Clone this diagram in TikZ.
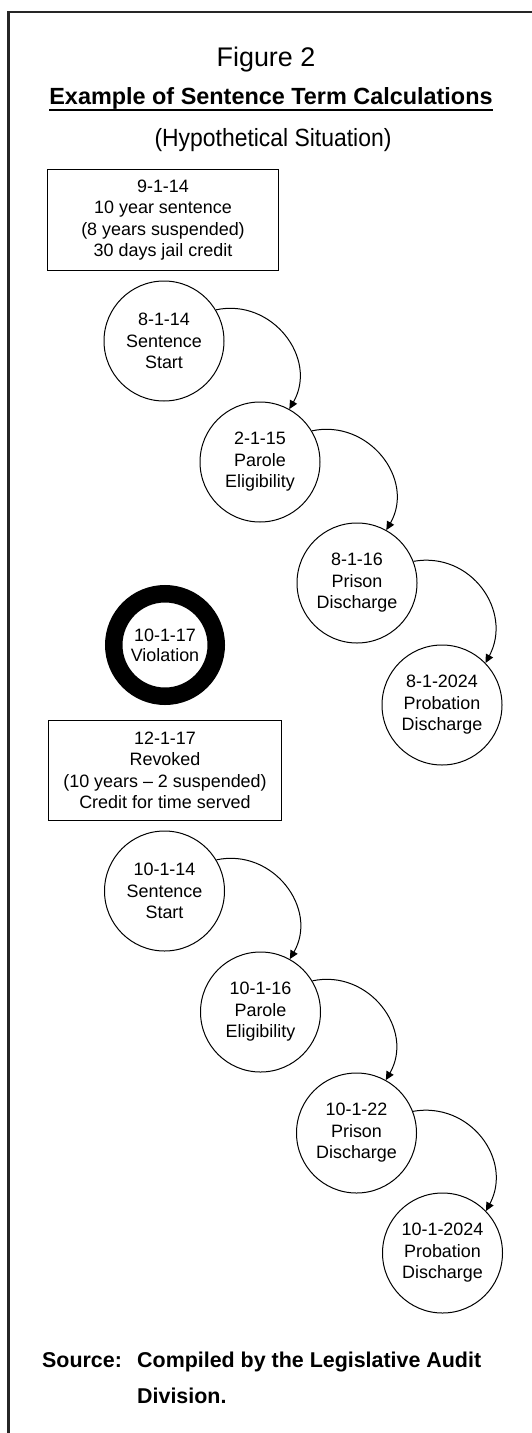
\documentclass[tikz,border=0pt]{standalone}
\usepackage{fontspec}
\setmainfont{Liberation Sans}
\newfontfamily\narrowfont{Liberation Sans}[FakeStretch=0.92]
\usetikzlibrary{arrows.meta}

\begin{document}
\begin{tikzpicture}[
        x=1bp, y=1bp,
        >={Triangle[length=8.5bp,width=8bp]},
        heading/.style={anchor=base, inner sep=0pt, font=\fontsize{24}{28}\selectfont},
        datebox/.style={rectangle, draw, line width=1bp, minimum width=230bp, minimum height=100bp, align=center, font=\fontsize{18}{21.5}\selectfont},
        event/.style={circle, draw, line width=1bp, minimum size=120bp, inner sep=0pt, align=center, font=\fontsize{18}{21.5}\selectfont},
        violation/.style={circle, draw, line width=17.5bp, minimum size=102.5bp, inner sep=0pt, align=center, font=\fontsize{18}{20}\selectfont},
        source/.style={anchor=base west, inner sep=0pt, font=\bfseries\fontsize{21.5}{26}\selectfont},
        timearrow/.style={->, line width=1bp, out=12, in=60, looseness=1.2},
      ]
      \useasboundingbox (0,0) rectangle (532,-1433);

      %Frame
      \draw[line width=2.4bp, black!85] (532,-12) -- (8.5,-12) -- (8.5,-1433);

      %Title
      \node[heading, font=\fontsize{27}{30}\selectfont] (fig) at (266,-67) {Figure 2};
      \node[heading, font=\bfseries\fontsize{23.5}{28}\selectfont] (ex) at (271,-105) {Example of Sentence Term Calculations};
      \node[heading, font=\narrowfont\fontsize{25}{28}\selectfont] (hyp) at (273,-147) {(Hypothetical Situation)};
      \draw[line width=1.8bp] ([yshift=-5bp]ex.base west) -- ([yshift=-5bp]ex.base east);

      %Original sentence
      \node[datebox] (b1) at (163,-220) {9-1-14\\10 year sentence\\(8 years suspended)\\30 days jail credit};
      \node[event] (e1) at (164,-341) {8-1-14\\Sentence\\Start};
      \node[event] (e2) at (260,-462) {2-1-15\\Parole\\Eligibility};
      \node[event] (e3) at (357,-583) {8-1-16\\Prison\\Discharge};
      \node[event] (e4) at (442,-705) {8-1-2024\\Probation\\Discharge};

      %Violation and revocation
      \node[violation] (v) at (165,-645) {10-1-17\\Violation};
      \node[datebox, minimum width=232bp] (b2) at (165,-770.5) {12-1-17\\Revoked\\(10 years -- 2 suspended)\\Credit for time served};
      \node[event] (r1) at (164.5,-891) {10-1-14\\Sentence\\Start};
      \node[event] (r2) at (260.5,-1012) {10-1-16\\Parole\\Eligibility};
      \node[event] (r3) at (356.5,-1133) {10-1-22\\Prison\\Discharge};
      \node[event] (r4) at (442.5,-1253) {10-1-2024\\Probation\\Discharge};

      %Arrows
      \draw[timearrow] (e1.31) to (e2.61);
      \draw[timearrow] (e2.31) to (e3.61);
      \draw[timearrow, out=10, in=62] (e3.21) to (e4.44);
      \draw[timearrow] (r1.31) to (r2.61);
      \draw[timearrow] (r2.31) to (r3.61);
      \draw[timearrow, out=10, in=62] (r3.21) to (r4.44);

      %Source
      \node[source] (src) at (42,-1367) {Source:};
      \node[source] (src1) at (137,-1367) {Compiled by the Legislative Audit};
      \node[source] (src2) at (137,-1403) {Division.};
    \end{tikzpicture}
\end{document}
